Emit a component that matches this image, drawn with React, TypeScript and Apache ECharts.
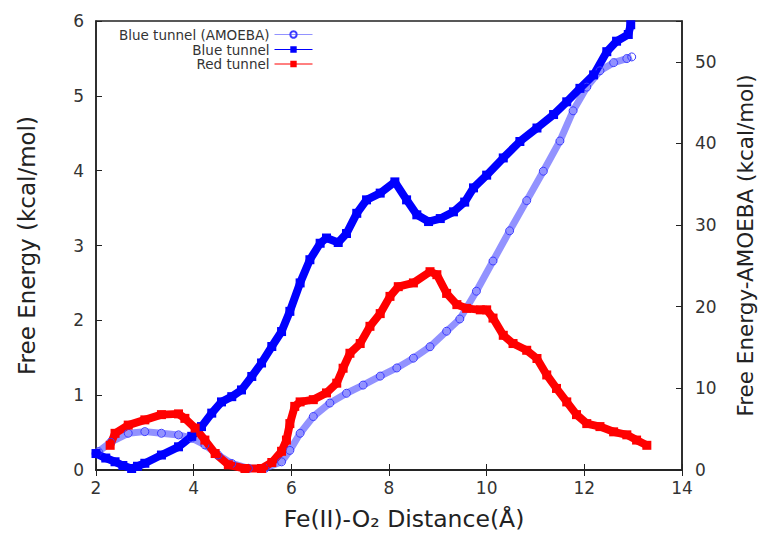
import React, { useEffect, useRef } from "react";
import * as echarts from "echarts";

const FONT = "DejaVu Sans";

// Blue tunnel (left axis, kcal/mol)
const blueX = [2.0, 2.2, 2.39, 2.55, 2.73, 2.85, 3.0, 3.34, 3.69, 3.96, 4.16, 4.37, 4.57, 4.78, 4.98, 5.19, 5.39, 5.6, 5.8, 5.97, 6.18, 6.38, 6.59, 6.72, 6.96, 7.13, 7.34, 7.54, 7.82, 8.12, 8.36, 8.57, 8.81, 9.05, 9.32, 9.55, 9.73, 10.0, 10.34, 10.68, 11.03, 11.37, 11.64, 11.91, 12.19, 12.46, 12.66, 12.9, 12.95];
const blueY = [0.22, 0.16, 0.11, 0.06, 0.02, 0.05, 0.09, 0.2, 0.31, 0.45, 0.58, 0.76, 0.91, 0.98, 1.07, 1.25, 1.43, 1.65, 1.85, 2.12, 2.5, 2.81, 3.03, 3.1, 3.04, 3.16, 3.43, 3.61, 3.7, 3.85, 3.61, 3.41, 3.32, 3.36, 3.45, 3.58, 3.77, 3.94, 4.17, 4.39, 4.57, 4.75, 4.92, 5.1, 5.28, 5.59, 5.73, 5.82, 5.95];

// Blue tunnel (AMOEBA) (right axis, kcal/mol)
const amoebaX = [2.0, 2.05, 2.3, 2.66, 3.0, 3.34, 3.69, 3.96, 4.23, 4.5, 4.78, 5.12, 5.46, 5.8, 5.97, 6.18, 6.45, 6.79, 7.13, 7.47, 7.82, 8.16, 8.5, 8.84, 9.18, 9.45, 9.79, 10.13, 10.47, 10.82, 11.16, 11.5, 11.77, 12.05, 12.32, 12.6, 12.87, 12.97];
const amoebaY = [2.0, 2.25, 3.4, 4.5, 4.7, 4.5, 4.3, 3.9, 3.07, 1.84, 0.8, 0.2, 0.2, 1.0, 2.4, 4.5, 6.55, 8.2, 9.4, 10.4, 11.5, 12.5, 13.7, 15.1, 17.0, 18.5, 21.9, 25.6, 29.3, 33.0, 36.6, 40.3, 44.0, 46.9, 48.9, 49.9, 50.4, 50.6];

// Red tunnel (left axis, kcal/mol)
const redX = [2.29, 2.39, 2.66, 3.0, 3.34, 3.69, 3.82, 4.03, 4.23, 4.44, 4.71, 5.05, 5.39, 5.6, 5.8, 5.9, 5.97, 6.07, 6.18, 6.45, 6.72, 6.93, 7.06, 7.2, 7.41, 7.61, 7.82, 8.02, 8.19, 8.5, 8.84, 8.98, 9.18, 9.39, 9.59, 9.87, 10.0, 10.13, 10.34, 10.54, 10.82, 11.03, 11.23, 11.43, 11.64, 11.84, 12.05, 12.32, 12.6, 12.87, 13.07, 13.28];
const redY = [0.33, 0.49, 0.6, 0.67, 0.74, 0.75, 0.69, 0.56, 0.4, 0.22, 0.07, 0.02, 0.02, 0.1, 0.25, 0.4, 0.62, 0.85, 0.91, 0.94, 1.03, 1.16, 1.36, 1.56, 1.69, 1.92, 2.09, 2.32, 2.45, 2.5, 2.65, 2.61, 2.36, 2.21, 2.16, 2.14, 2.14, 2.03, 1.8, 1.69, 1.6, 1.49, 1.27, 1.09, 0.91, 0.74, 0.62, 0.58, 0.51, 0.47, 0.4, 0.33];

const zip = (xs: number[], ys: number[]) => xs.map((x, i) => [x, ys[i]]);

const legendBase = {
  orient: "horizontal" as const,
  align: "right" as const,
  right: 451,
  itemWidth: 38,
  itemHeight: 8,
  padding: 0,
  textStyle: { fontSize: 13.5, lineHeight: 13, color: "#333", fontFamily: FONT },
  lineStyle: { width: 1 },
};

export default function App() {
  const ref = useRef<HTMLDivElement>(null);
  useEffect(() => {
    const chart = echarts.init(ref.current!, null, { renderer: "svg" });
    const tickLabel = { fontSize: 17, color: "#333", fontFamily: FONT };
    chart.setOption({
      animation: false,
      backgroundColor: "#fff",
      grid: { left: 96, right: 82, top: 21, bottom: 66, show: true, borderColor: "#222", borderWidth: 1.5 },
      legend: [
        { ...legendBase, top: 27.5, data: ["Blue tunnel (AMOEBA)"] },
        { ...legendBase, top: 42.5, data: ["Blue tunnel"] },
        { ...legendBase, top: 57, data: ["Red tunnel"] },
      ],
      xAxis: [
        {
          type: "value", min: 2, max: 14, interval: 2,
          name: "Fe(II)-O₂ Distance(Å)", nameLocation: "middle", nameGap: 37,
          nameTextStyle: { fontSize: 23.5, color: "#222", fontFamily: FONT, padding: [0, 0, 0, 30] },
          axisLine: { lineStyle: { color: "#222", width: 1.5 } },
          axisTick: { inside: true, length: 6, lineStyle: { color: "#222" } },
          axisLabel: { ...tickLabel, margin: 9 },
          splitLine: { show: false },
        },
        {
          type: "value", min: 2, max: 14, interval: 2, position: "top",
          axisLine: { lineStyle: { color: "#222", width: 1.5 } },
          axisTick: { inside: true, length: 6, lineStyle: { color: "#222" } },
          axisLabel: { show: false },
          splitLine: { show: false },
        },
      ],
      yAxis: [
        {
          type: "value", min: 0, max: 6, interval: 1,
          name: "Free Energy (kcal/mol)", nameLocation: "middle", nameGap: 58,
          nameTextStyle: { fontSize: 23, color: "#222", fontFamily: FONT },
          axisLine: { show: true, lineStyle: { color: "#222", width: 1.5 } },
          axisTick: { show: true, inside: true, length: 6, lineStyle: { color: "#222" } },
          axisLabel: { ...tickLabel, margin: 12 },
          splitLine: { show: false },
        },
        {
          type: "value", min: 0, max: 55, interval: 10, position: "right",
          name: "Free Energy-AMOEBA (kcal/mol)", nameLocation: "middle", nameGap: 52,
          nameTextStyle: { fontSize: 21.5, color: "#222", fontFamily: FONT },
          axisLine: { show: true, lineStyle: { color: "#222", width: 1.5 } },
          axisTick: { show: true, inside: true, length: 6, lineStyle: { color: "#222" } },
          axisLabel: { ...tickLabel, margin: 13, formatter: (v: number) => (v % 10 === 0 ? String(v) : "") },
          splitLine: { show: false },
        },
      ],
      series: [
        {
          name: "Blue tunnel (AMOEBA)", type: "line", yAxisIndex: 1, data: zip(amoebaX, amoebaY),
          symbol: "circle", symbolSize: 8,
          lineStyle: { color: "rgba(100,100,255,0.7)", width: 7 },
          itemStyle: { color: "rgba(0,0,0,0)", borderColor: "#3c3cff", borderWidth: 1 },
        },
        {
          name: "Blue tunnel", type: "line", data: zip(blueX, blueY),
          symbol: "rect", symbolSize: 9,
          lineStyle: { color: "#0000ff", width: 8 },
          itemStyle: { color: "#0000ff" },
        },
        {
          name: "Red tunnel", type: "line", data: zip(redX, redY),
          symbol: "rect", symbolSize: 9,
          lineStyle: { color: "#ff0000", width: 8 },
          itemStyle: { color: "#ff0000" },
        },
      ],
    });
    return () => chart.dispose();
  }, []);
  return <div ref={ref} style={{ position: "absolute", left: 0, top: 0, width: 764, height: 536 }} />;
}
